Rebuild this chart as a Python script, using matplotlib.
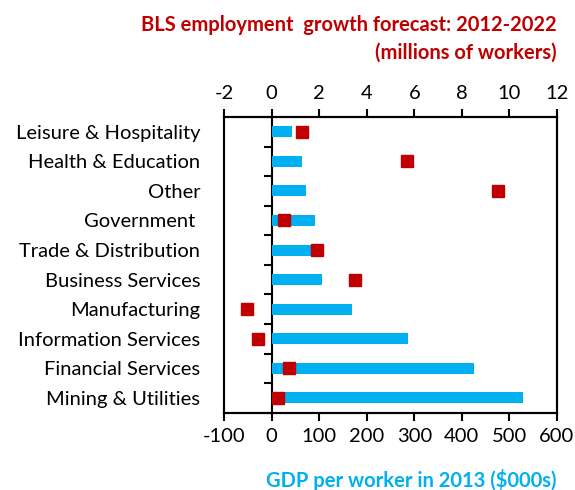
import matplotlib
matplotlib.use("Agg")
import matplotlib.pyplot as plt
import numpy as np

categories = ["Leisure & Hospitality", "Health & Education", "Other", "Government ",
              "Trade & Distribution", "Business Services", "Manufacturing",
              "Information Services", "Financial Services", "Mining & Utilities"]
gdp_per_worker = [43, 64, 73, 91, 85, 106, 169, 286, 425, 528]
employment_growth = [1.29, 5.68, 9.53, 0.52, 1.90, 3.49, -1.05, -0.57, 0.75, 0.26]
bottom_ticks = [-100, 0, 100, 200, 300, 400, 500, 600]
top_ticks = [-2, 0, 2, 4, 6, 8, 10, 12]

plt.rcParams['font.family'] = ['Lato', 'DejaVu Sans']
plt.rcParams['axes.unicode_minus'] = False
BLUE = "#00B0F0"
RED = "#C00000"
FS = 14.5

fig = plt.figure(figsize=(5.75, 4.9), dpi=100)
ax = fig.add_axes([224/575, 1-412.7/490, (557-224)/575, (412.7-117)/490])

y = np.arange(len(categories))
ax.barh(y, gdp_per_worker, height=0.37, color=BLUE, zorder=2)
ax.set_xlim(bottom_ticks[0], bottom_ticks[-1])
ax.set_ylim(len(categories)-0.5, -0.5)
ax.set_xticks(bottom_ticks)
ax.tick_params(axis='x', direction='out', length=6, width=1.5, labelsize=FS, pad=5)
ax.set_xlabel("GDP per worker in 2013 ($000s)", color=BLUE, fontweight='bold',
              fontsize=FS, labelpad=17, loc='right')
ax.set_yticks(y)
ax.set_yticklabels(categories)
ax.tick_params(axis='y', length=0, labelsize=FS, pad=17)
for s in ax.spines.values():
    s.set_linewidth(1.5)

# vertical axis line at zero with category boundary ticks
sec = ax.secondary_yaxis((0 - bottom_ticks[0]) / (bottom_ticks[-1] - bottom_ticks[0]))
sec.set_yticks(np.arange(len(categories)+1) - 0.5)
sec.set_yticklabels([])
sec.tick_params(axis='y', direction='out', length=6, width=1.5)
sec.spines['left'].set_linewidth(1.5)

# top axis for employment growth
ax2 = ax.twiny()
ax2.set_xlim(top_ticks[0], top_ticks[-1])
ax2.set_ylim(len(categories)-0.5, -0.5)
ax2.plot(employment_growth, y, linestyle='none', marker='s', markersize=8.6,
         color=RED, zorder=3)
ax2.set_xticks(top_ticks)
ax2.tick_params(axis='x', direction='out', length=6, width=1.5, labelsize=FS, pad=5)
for s in ax2.spines.values():
    s.set_linewidth(1.5)

fig.text(557/575, 1-31/490, "BLS employment  growth forecast: 2012-2022",
         color=RED, fontweight='bold', fontsize=FS, ha='right', va='baseline')
fig.text(557/575, 1-59/490, "(millions of workers)",
         color=RED, fontweight='bold', fontsize=FS, ha='right', va='baseline')

fig.savefig("out.png", dpi=100)
